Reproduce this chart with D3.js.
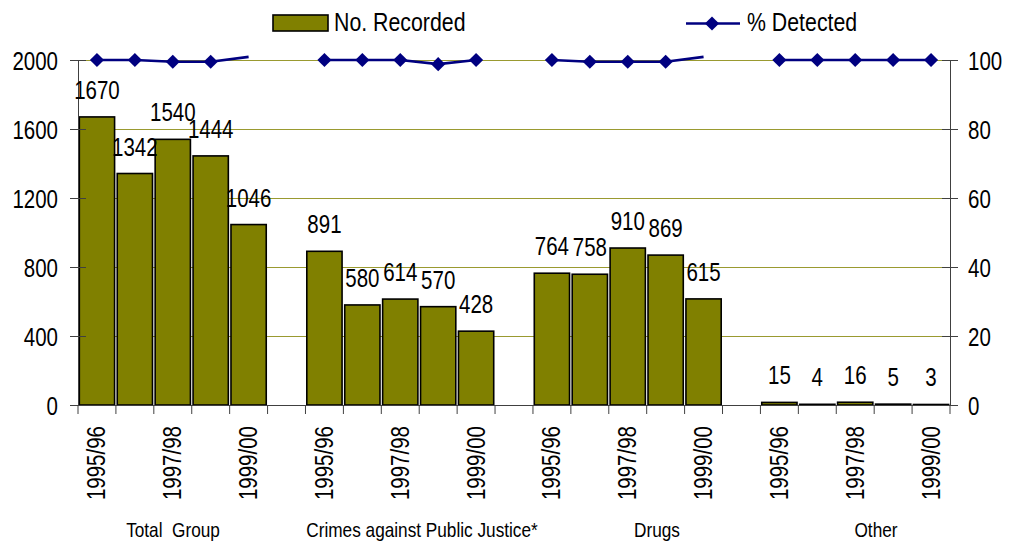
<!DOCTYPE html>
<html>
<head>
<meta charset="utf-8">
<script src="https://cdn.jsdelivr.net/npm/d3@7"></script>
<style>
  html, body { margin: 0; padding: 0; background: #fff; }
  svg { display: block; font-family: "Liberation Sans Narrow", "Arial Narrow", "Liberation Sans", Arial, sans-serif; }
</style>
</head>
<body>
<svg id="chart" width="1014" height="544"></svg>
<script>
// ---- data ----
const groups = ["Total  Group", "Crimes against Public Justice*", "Drugs", "Other"];
const years = ["1995/96", "1996/97", "1997/98", "1998/99", "1999/00"];
const shownYears = ["1995/96", "1997/98", "1999/00"];

const recordedTotal  = [1670, 1342, 1540, 1444, 1046];
const recordedCrimes = [891, 580, 614, 570, 428];
const recordedDrugs  = [764, 758, 910, 869, 615];
const recordedOther  = [15, 4, 16, 5, 3];

const detectedTotal  = [100, 100, 99.5, 99.5, 100.9];
const detectedCrimes = [100, 100, 100, 98.8, 100];
const detectedDrugs  = [100, 99.5, 99.5, 99.5, 100.9];
const detectedOther  = [100, 100, 100, 100, 100];

const leftTicks  = [0, 400, 800, 1200, 1600, 2000];
const rightTicks = [0, 20, 40, 60, 80, 100];

const recordedSeries = [recordedTotal, recordedCrimes, recordedDrugs, recordedOther];
const detectedSeries = [detectedTotal, detectedCrimes, detectedDrugs, detectedOther];

// ---- build slots (blank slot between groups) ----
const slots = [];
groups.forEach((g, gi) => {
  years.forEach((y, yi) => {
    slots.push({ key: g + "|" + y, group: g, gi, year: y, recorded: recordedSeries[gi][yi], detected: detectedSeries[gi][yi] });
  });
  if (gi < groups.length - 1) slots.push({ key: "blank" + gi, group: null, gi, year: null, recorded: null, detected: null });
});

// ---- layout ----
const L = 78, R = 950, T = 60, B = 405;
const NARROW = 0.82;
const svg = d3.select("#chart");
const colorBar = "#808000";
const colorLine = "#000080";
const axisColor = "#404040";
const gridColor = "#9a9a30";

const x = d3.scaleBand().domain(slots.map(d => d.key)).range([L, R]).paddingInner(0.07).paddingOuter(0.035);
const step = (R - L) / slots.length;
const yL = d3.scaleLinear().domain([0, 2000]).range([B, T]);
const yR = d3.scaleLinear().domain([0, 100]).range([B, T]);

// narrow text helper
function ntext(sel, px, py, rot, anchor, size, dy) {
  return sel.attr("transform", (d, i) => {
    const X = typeof px === "function" ? px(d, i) : px;
    const Y = typeof py === "function" ? py(d, i) : py;
    return `translate(${X},${Y})` + (rot ? ` rotate(${rot})` : "") + ` scale(${NARROW},1)`;
  }).attr("x", 0).attr("y", 0).attr("dy", dy || null)
    .attr("text-anchor", anchor).attr("font-size", size).attr("fill", "#000");
}

// gridlines
svg.append("g").selectAll("line").data(leftTicks.filter(v => v > 0)).join("line")
  .attr("x1", L).attr("x2", R)
  .attr("y1", d => yL(d) + 0.5).attr("y2", d => yL(d) + 0.5)
  .attr("stroke", gridColor).attr("stroke-width", 1);

// bars
svg.append("g").selectAll("rect").data(slots.filter(d => d.recorded !== null)).join("rect")
  .attr("x", d => x(d.key))
  .attr("width", x.bandwidth())
  .attr("y", d => yL(d.recorded))
  .attr("height", d => B - yL(d.recorded))
  .attr("fill", colorBar)
  .attr("stroke", "#000").attr("stroke-width", 1.6);

// left axis
const axL = svg.append("g").attr("transform", `translate(${L},0)`)
  .call(d3.axisLeft(yL).tickValues(leftTicks).tickSize(8).tickFormat(d3.format("d")));
axL.select(".domain").attr("stroke", axisColor).attr("d", `M0.5,${T}V${B}`);
axL.selectAll(".tick line").attr("x1", -8).attr("x2", 8).attr("stroke", axisColor);
axL.selectAll(".tick text").attr("font-family", null)
  .call(s => ntext(s, -20, 0, 0, "end", 25, "0.36em"));

// right axis
const axR = svg.append("g").attr("transform", `translate(${R},0)`)
  .call(d3.axisRight(yR).tickValues(rightTicks).tickSize(8).tickFormat(d3.format("d")));
axR.select(".domain").attr("stroke", axisColor).attr("d", `M0.5,${T}V${B}`);
axR.selectAll(".tick line").attr("x1", -8).attr("x2", 8).attr("stroke", axisColor);
axR.selectAll(".tick text").attr("font-family", null)
  .call(s => ntext(s, 18, 0, 0, "start", 25, "0.36em"));

// bottom axis line and ticks at slot boundaries
const gx = svg.append("g");
gx.append("line").attr("x1", L - 8).attr("x2", R + 8).attr("y1", B + 0.5).attr("y2", B + 0.5).attr("stroke", axisColor);
gx.selectAll("line.tk").data(d3.range(slots.length + 1)).join("line").attr("class", "tk")
  .attr("x1", i => L + i * step).attr("x2", i => L + i * step)
  .attr("y1", B).attr("y2", B + 9).attr("stroke", axisColor);

// rotated year labels
gx.selectAll("text.yr").data(slots.filter(d => d.year && shownYears.includes(d.year))).join("text").attr("class", "yr")
  .call(s => ntext(s, d => x(d.key) + x.bandwidth() / 2, B + 21, -90, "end", 25, "0.34em"))
  .text(d => d.year);

// group labels
const groupCenters = [173, 422, 657, 876];
svg.append("g").selectAll("text").data(groups).join("text")
  .call(s => ntext(s, (d, i) => groupCenters[i], 537, 0, "middle", 21))
  .attr("xml:space", "preserve")
  .text(d => d);

// line (% detected)
const lineGen = d3.line().defined(d => d.detected !== null)
  .x(d => x(d.key) + x.bandwidth() / 2).y(d => yR(d.detected));
svg.append("path").datum(slots).attr("d", lineGen)
  .attr("fill", "none").attr("stroke", colorLine).attr("stroke-width", 2.6);
const diamond = d3.symbol(d3.symbolSquare, 100);
svg.append("g").selectAll("path").data(slots.filter(d => d.detected !== null && d.detected <= 100)).join("path")
  .attr("d", diamond)
  .attr("transform", d => `translate(${x(d.key) + x.bandwidth() / 2},${yR(d.detected)}) rotate(45)`)
  .attr("fill", colorLine);

// data labels
svg.append("g").selectAll("text").data(slots.filter(d => d.recorded !== null)).join("text")
  .call(s => ntext(s, d => x(d.key) + x.bandwidth() / 2, d => yL(d.recorded) - 18, 0, "middle", 25))
  .text(d => d.recorded);

// legend
const lg = svg.append("g");
lg.append("rect").attr("x", 273).attr("y", 15).attr("width", 55).attr("height", 16)
  .attr("fill", colorBar).attr("stroke", "#000").attr("stroke-width", 1.6);
lg.append("text").call(s => ntext(s, 334, 31, 0, "start", 26)).text("No. Recorded");
lg.append("line").attr("x1", 686).attr("x2", 740).attr("y1", 23.5).attr("y2", 23.5)
  .attr("stroke", colorLine).attr("stroke-width", 2.6);
lg.append("path").attr("d", diamond).attr("transform", "translate(712,23.5) rotate(45)").attr("fill", colorLine);
lg.append("text").call(s => ntext(s, 747, 31, 0, "start", 26)).text("% Detected");
</script>
</body>
</html>
